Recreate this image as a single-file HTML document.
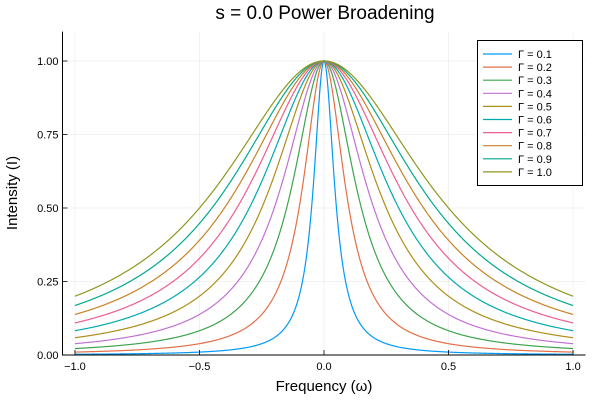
<!DOCTYPE html>
<html><head><meta charset="utf-8"><style>
body{margin:0;background:#fff;}
svg{display:block;font-family:"Liberation Sans",sans-serif;}
</style></head><body>
<svg id="chart" width="600" height="400" viewBox="0 0 600 400">
<text x="325" y="19" font-size="19" text-anchor="middle" fill="#000">s = 0.0 Power Broadening</text>
<g id="grid"></g>
<g id="series"></g>
<g id="axes"></g>
<text x="324" y="391" font-size="15" text-anchor="middle">Frequency (ω)</text>
<text transform="translate(17,193) rotate(-90)" font-size="15" text-anchor="middle">Intensity (I)</text>
<g id="legend"></g>
</svg>
<script>
const gammas=[0.1,0.2,0.3,0.4,0.5,0.6,0.7,0.8,0.9,1.0];
const seriesLabels=["Γ = 0.1","Γ = 0.2","Γ = 0.3","Γ = 0.4","Γ = 0.5","Γ = 0.6","Γ = 0.7","Γ = 0.8","Γ = 0.9","Γ = 1.0"];
const xTicks=[-1.0,-0.5,0.0,0.5,1.0];
const xTickLabels=["−1.0","−0.5","0.0","0.5","1.0"];
const yTicks=[0,0.25,0.5,0.75,1.0];
const yTickLabels=["0.00","0.25","0.50","0.75","1.00"];
const colors=["#009af9","#e26f46","#3da44d","#c271d2","#ac8e18","#00a9ad","#ed5e93","#c68225","#00a98d","#8e971e"];
const NS="http://www.w3.org/2000/svg";
const L=62.5,R=585.5,T=31.6,B=355;
const xmin=-1.05,xmax=1.05,ymin=0,ymax=1.1;
const sx=v=>L+(v-xmin)/(xmax-xmin)*(R-L);
const sy=v=>B-(v-ymin)/(ymax-ymin)*(B-T);
function mk(tag,attrs,parent){const e=document.createElementNS(NS,tag);for(const k in attrs)e.setAttribute(k,attrs[k]);parent.appendChild(e);return e;}
const grid=document.getElementById('grid'),axes=document.getElementById('axes'),ser=document.getElementById('series'),leg=document.getElementById('legend');
xTicks.forEach((t,i)=>{
 const g=mk('line',{x1:sx(t),x2:sx(t),y1:T,y2:B,stroke:'#000','stroke-opacity':0.1,'stroke-width':0.5},grid);
 
 const tk=mk('line',{x1:sx(t),x2:sx(t),y1:B,y2:B-5,stroke:'#000','stroke-width':0.8},axes);
 
 const tx=mk('text',{x:sx(t),y:B+15,'font-size':11,'text-anchor':'middle'},axes);tx.textContent=xTickLabels[i];
 
});
yTicks.forEach((t,i)=>{
 const g=mk('line',{x1:L,x2:R,y1:sy(t),y2:sy(t),stroke:'#000','stroke-opacity':0.1,'stroke-width':0.5},grid);
 
 const tk=mk('line',{x1:L,x2:L+5,y1:sy(t),y2:sy(t),stroke:'#000','stroke-width':0.8},axes);
 
 const tx=mk('text',{x:L-4,y:sy(t)+4,'font-size':11,'text-anchor':'end'},axes);tx.textContent=yTickLabels[i];
 
});
const ax=mk('path',{d:`M${L},${T}V${B}H${R}`,fill:'none',stroke:'#000','stroke-width':1},axes);

gammas.forEach((G,i)=>{
 let d='';const N=800;
 for(let k=0;k<=N;k++){const w=-1+2*k/N;const h=(G/2)*(G/2);const I=h/(w*w+h);d+=(k?'L':'M')+sx(w).toFixed(2)+','+sy(I).toFixed(2);}
 const p=mk('path',{d,fill:'none',stroke:colors[i],'stroke-width':1.2},ser);
 
});
const lb=mk('rect',{x:477.5,y:40.5,width:105,height:145,fill:'#fff',stroke:'#000','stroke-width':1},leg);

seriesLabels.forEach((s,i)=>{
 const y=54+i*13.1;
 const ln=mk('line',{x1:483,x2:512,y1:y,y2:y,stroke:colors[i],'stroke-width':1.2},leg);
 
 const tx=mk('text',{x:518,y:y+4,'font-size':11},leg);tx.textContent=s;
 
});
</script>
</body></html>
